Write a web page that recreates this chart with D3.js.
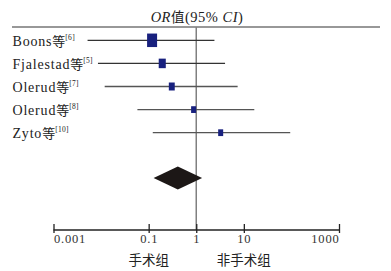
<!DOCTYPE html>
<html>
<head>
<meta charset="utf-8">
<script src="https://cdn.jsdelivr.net/npm/d3@7"></script>
<style>
  html, body { margin: 0; padding: 0; background: #fff; }
  svg { display: block; }
</style>
</head>
<body>
<svg id="chart" width="391" height="271"></svg>
<script>
// ---- data ----
const studies   = ["Boons等", "Fjalestad等", "Olerud等", "Olerud等", "Zyto等"];
const refs      = ["[6]", "[5]", "[7]", "[8]", "[10]"];
const orValues  = [0.118, 0.193, 0.306, 0.88, 3.26];
const ciLow     = [0.0052, 0.0086, 0.0119, 0.058, 0.122];
const ciHigh    = [2.41, 4.03, 7.41, 16.6, 94.4];
const weights   = [40, 20, 14, 10, 10];
const pooled    = [0.127, 0.41, 1.33]; // low, OR, high
const tickValues = [0.001, 0.1, 1, 10, 1000];
const tickLabels = ["0.001", "0.1", "1", "10", "1000"];
const favourLabels = ["手术组", "非手术组"];
const favourAt = [0.1, 10];

// ---- layout ----
const svg = d3.select("#chart");
const serif = "'Liberation Serif', 'DejaVu Serif', serif";
const cjk = "'Noto Sans CJK SC', sans-serif";

const x = d3.scaleLog().domain([0.001, 1000]).range([53.5, 339]);
const y = d3.scalePoint().domain(d3.range(studies.length)).range([40.3, 132.7]);
const size = d3.scaleSqrt().domain([0, 40]).range([0, 10]);
const axisY = 230;
const diamondY = 178;

// title
const title = svg.append("text")
  .attr("x", 197).attr("y", 22)
  .attr("text-anchor", "middle")
  .attr("font-family", serif)
  .attr("font-size", 14.5)
  .attr("letter-spacing", 0.5)
  .attr("fill", "#222");
title.append("tspan").attr("font-style", "italic").text("OR");
title.append("tspan").attr("font-family", cjk).attr("font-size", 13.5).text("值");
title.append("tspan").text("(95% ");
title.append("tspan").attr("font-style", "italic").text("CI");
title.append("tspan").text(")");

// header line
svg.append("line")
  .attr("x1", 12).attr("x2", 380)
  .attr("y1", 27).attr("y2", 27)
  .attr("stroke", "#333").attr("stroke-width", 1.2);

// reference line at OR = 1
svg.append("line")
  .attr("x1", x(1)).attr("x2", x(1))
  .attr("y1", 27).attr("y2", axisY)
  .attr("stroke", "#808080").attr("stroke-width", 1.5);

// study rows
const rows = svg.append("g").selectAll("g")
  .data(studies.map((s, i) => ({ s, i })))
  .join("g");

rows.append("line")
  .attr("x1", d => x(ciLow[d.i])).attr("x2", d => x(ciHigh[d.i]))
  .attr("y1", d => y(d.i)).attr("y2", d => y(d.i))
  .attr("stroke", d => d.i < 2 ? "#333" : "#555")
  .attr("stroke-width", 1.3);

rows.append("rect")
  .attr("x", d => x(orValues[d.i]) - size(weights[d.i]) / 2)
  .attr("y", d => y(d.i) - size(weights[d.i]) * 1.35 / 2)
  .attr("width", d => size(weights[d.i]))
  .attr("height", d => size(weights[d.i]) * 1.35)
  .attr("fill", "#18207e");

const lbl = rows.append("text")
  .attr("x", 12.5).attr("y", d => y(d.i) + 5.5)
  .attr("font-family", serif)
  .attr("font-size", 14)
  .attr("letter-spacing", 0.8)
  .attr("fill", "#222");
lbl.append("tspan").text(d => d.s.replace("等", ""));
lbl.append("tspan").attr("font-family", cjk).attr("font-size", 13).attr("letter-spacing", 0).text("等");
lbl.append("tspan").attr("font-size", 7.5).attr("letter-spacing", 0.3).attr("dy", -6).text(d => refs[d.i]);

// pooled diamond
svg.append("path")
  .attr("d", d3.line()([
    [x(pooled[0]), diamondY],
    [x(pooled[1]), diamondY - 11.5],
    [x(pooled[2]), diamondY],
    [x(pooled[1]), diamondY + 11.5]
  ]) + "Z")
  .attr("fill", "#1c1716");

// axis
const axis = d3.axisBottom(x).tickValues(tickValues).tickSize(3).tickFormat((d, i) => tickLabels[i]);
const ag = svg.append("g").attr("transform", `translate(0,${axisY})`).call(axis);
ag.attr("font-family", serif);
ag.select(".domain").attr("stroke", "#222").attr("stroke-width", 1.3).attr("d", `M${x(0.001)},0H${x(1000)}`);
ag.selectAll(".tick line").attr("y1", -6).attr("y2", 3).attr("stroke", "#222").attr("stroke-width", 1.3);
ag.selectAll(".tick text")
  .attr("y", 13).attr("dy", 0)
  .attr("font-family", serif)
  .attr("font-size", 12.5)
  .attr("letter-spacing", 0.8)
  .attr("fill", "#333")
  .attr("text-anchor", (d, i) => i === 0 ? "start" : (i === tickValues.length - 1 ? "end" : "middle"));

// favour labels
svg.append("g").selectAll("text")
  .data(favourLabels)
  .join("text")
  .attr("x", (d, i) => x(favourAt[i]))
  .attr("y", 265)
  .attr("text-anchor", "middle")
  .attr("font-family", cjk)
  .attr("font-size", 13.5)
  .attr("fill", "#222")
  .text(d => d);
</script>
</body>
</html>
